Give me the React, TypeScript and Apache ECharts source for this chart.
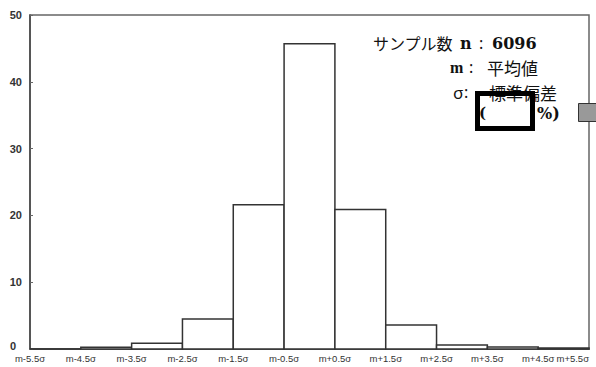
import React, { useEffect, useRef } from "react";
import * as echarts from "echarts";

// Bin boundaries along the horizontal axis (mean ± k·sigma)
const boundaryLabels = [
  "m-5.5σ", "m-4.5σ", "m-3.5σ", "m-2.5σ", "m-1.5σ", "m-0.5σ",
  "m+0.5σ", "m+1.5σ", "m+2.5σ", "m+3.5σ", "m+4.5σ", "m+5.5σ",
];

// Share of samples (%) falling in each one-sigma-wide bin
const binPercents = [0, 0.25, 0.85, 4.5, 21.6, 45.7, 20.9, 3.6, 0.6, 0.3, 0.15];

// Vertical axis range
const yMin = 0;
const yMax = 50;
const yStep = 10;

const cjk = '"Noto Sans CJK JP", "Noto Sans", sans-serif';
const sans = '"Noto Sans", "DejaVu Sans", sans-serif';
const serifWide = '"DejaVu Serif", "Liberation Serif", serif';
const serifNarrow = '"Liberation Serif", "DejaVu Serif", serif';

const txt = (
  left: number,
  cy: number,
  text: string,
  fontFamily: string,
  fontSize: number,
  bold = false
) => ({
  type: "text",
  x: left,
  y: cy,
  z: 5,
  style: {
    text,
    fontFamily,
    fontSize,
    fontWeight: bold ? "bold" : "normal",
    fill: "#111",
    verticalAlign: "middle",
    align: "left",
  },
});

export default function App() {
  const ref = useRef<HTMLDivElement>(null);

  useEffect(() => {
    if (!ref.current) return;
    const chart = echarts.init(ref.current, undefined, { renderer: "svg" });

    const binData = binPercents.map((v, i) => [i, i + 1, v]);

    chart.setOption({
      animation: false,
      backgroundColor: "#fff",
      grid: {
        left: 30,
        right: 7,
        top: 15,
        bottom: 18,
        show: true,
        borderColor: "#666",
        borderWidth: 1.5,
        backgroundColor: "transparent",
      },
      xAxis: {
        type: "value",
        min: 0,
        max: boundaryLabels.length - 1,
        interval: 1,
        splitLine: { show: false },
        axisLine: { show: true, lineStyle: { color: "#444", width: 1.5 } },
        axisTick: { show: false },
        axisLabel: {
          formatter: (v: number) => boundaryLabels[Math.round(v)] ?? "",
          fontSize: 9.5,
          color: "#333",
          margin: 4,
          fontFamily: "Liberation Sans, Arial, sans-serif",
          showMinLabel: true,
          showMaxLabel: true,
          alignMaxLabel: "right",
        },
      },
      yAxis: {
        type: "value",
        min: yMin,
        max: yMax,
        interval: yStep,
        splitLine: { show: false },
        axisLine: { show: true, lineStyle: { color: "#444", width: 1.5 } },
        axisTick: { show: true, inside: true, length: 3, lineStyle: { color: "#666" } },
        axisLabel: {
          fontSize: 11,
          fontWeight: "bold",
          color: "#333",
          margin: 8,
          fontFamily: "Liberation Sans, Arial, sans-serif",
          formatter: (v: number) => (v === 0 ? "{z|0}" : String(v)),
          rich: {
            z: {
              fontSize: 11,
              fontWeight: "bold",
              color: "#333",
              fontFamily: "Liberation Sans, Arial, sans-serif",
              lineHeight: 11,
              padding: [0, 6, 6, 0],
            },
          },
        },
      },
      series: [
        {
          type: "custom",
          data: binData,
          encode: { x: [0, 1], y: 2 },
          renderItem: (params: any, api: any) => {
            const base = api.coord([api.value(0), 0]);
            const top = api.coord([api.value(1), api.value(2)]);
            return {
              type: "rect",
              shape: {
                x: base[0],
                y: top[1],
                width: top[0] - base[0],
                height: base[1] - top[1],
              },
              style: { fill: "#fff", stroke: "#333", lineWidth: 1.5 },
            };
          },
        },
      ],
      graphic: [
        // sample count
        txt(373, 43, "サンプル数", cjk, 16),
        txt(460, 43, "n", serifWide, 16, true),
        txt(479, 43, ":", sans, 16),
        txt(492, 43, "6096", serifWide, 16, true),
        // mean
        txt(450, 67, "m", serifNarrow, 16, true),
        txt(469, 67, ":", sans, 16),
        txt(487, 67, "平均値", cjk, 17),
        // standard deviation
        txt(453, 92, "σ", sans, 17),
        txt(464, 92, ":", sans, 16),
        txt(489, 92, "標準偏差", cjk, 17),
        // percentage bracket
        txt(479, 113, "(", serifWide, 15, true),
        txt(537, 113, "%)", serifWide, 16, true),
        {
          type: "rect",
          z: 10,
          shape: { x: 477.5, y: 93.5, width: 55, height: 35 },
          style: { fill: "transparent", stroke: "#000", lineWidth: 5 },
        },
        {
          type: "rect",
          z: 10,
          shape: { x: 578.5, y: 103.5, width: 18, height: 18 },
          style: { fill: "#999", stroke: "#333", lineWidth: 1 },
        },
      ],
    });

    return () => chart.dispose();
  }, []);

  return <div ref={ref} style={{ width: 596, height: 367, position: "absolute", left: 0, top: 0 }} />;
}
